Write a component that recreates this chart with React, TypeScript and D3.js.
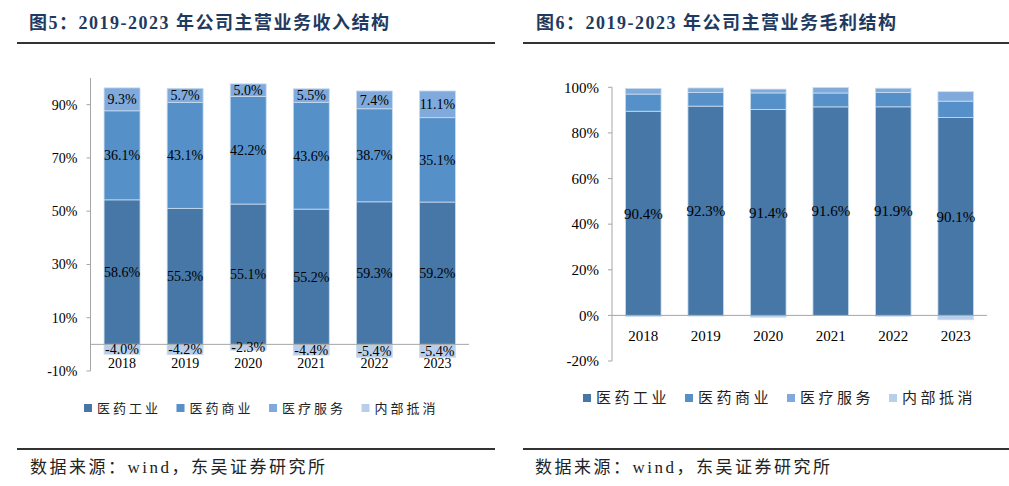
import React from "react";
import * as d3 from "d3";

const years = ["2018", "2019", "2020", "2021", "2022", "2023"];
const seriesNames = ["医药工业", "医药商业", "医疗服务", "内部抵消"];
const colors = ["#4677a7", "#5590c8", "#7faadb", "#b9cfe9"];

// Revenue structure (%)
const revIndustry = [58.6, 55.3, 55.1, 55.2, 59.3, 59.2];
const revCommerce = [36.1, 43.1, 42.2, 43.6, 38.7, 35.1];
const revService = [9.3, 5.7, 5.0, 5.5, 7.4, 11.1];
const revElim = [-4.0, -4.2, -2.3, -4.4, -5.4, -5.4];

// Gross profit structure (%)
const gpIndustry = [90.4, 92.3, 91.4, 91.6, 91.9, 90.1];
const gpCommerce = [7.6, 6.0, 7.3, 6.1, 6.3, 7.5];
const gpService = [2.5, 2.0, 1.7, 2.4, 1.9, 4.3];
const gpElim = [-0.5, -0.3, -0.8, -0.1, -0.4, -2.0];

const revTicks = [-10, 10, 30, 50, 70, 90];
const gpTicks = [-20, 0, 20, 40, 60, 80, 100];

const FONT = "'Liberation Serif', 'Times New Roman', 'Noto Sans CJK SC', serif";
const CJK = "'Liberation Serif', 'Noto Sans CJK SC', serif";

type Seg = { key: number; yi: number; v0: number; v1: number; raw: number };

function buildSegs(series: number[][]): Seg[] {
  const segs: Seg[] = [];
  years.forEach((_, yi) => {
    const absSum = d3.sum(series, (s) => Math.abs(s[yi]));
    let pos = 0;
    let neg = 0;
    series.forEach((s, k) => {
      const v = (s[yi] / absSum) * 100;
      if (v >= 0) {
        segs.push({ key: k, yi, v0: pos, v1: pos + v, raw: s[yi] });
        pos += v;
      } else {
        segs.push({ key: k, yi, v0: neg + v, v1: neg, raw: s[yi] });
        neg += v;
      }
    });
  });
  return segs;
}

function Panel(props: {
  series: number[][];
  ticks: number[];
  domain: [number, number];
  xRange: [number, number];
  yRange: [number, number];
  labelKeys: number[];
  labelSize: number;
  tickSize: number;
  yearY: number;
  legendX: number;
  legendY: number;
  legendStep: number;
  legendSize: number;
  legendSpacing: number;
}) {
  const {
    series, ticks, domain, xRange, yRange, labelKeys, labelSize, tickSize,
    yearY, legendX, legendY, legendStep, legendSize, legendSpacing,
  } = props;
  const x = d3.scaleBand<string>().domain(years).range(xRange).paddingInner(0.43).paddingOuter(0.215);
  const y = d3.scaleLinear().domain(domain).range(yRange);
  const segs = buildSegs(series);
  const axisX = xRange[0];
  return (
    <g>
      {segs.map((s, i) => (
        <rect
          key={i}
          x={x(years[s.yi])}
          width={x.bandwidth()}
          y={y(s.v1)}
          height={Math.max(0, y(s.v0) - y(s.v1))}
          fill={colors[s.key]}
          stroke="#c9dcf0"
          strokeWidth={0.8}
        />
      ))}
      {/* y axis */}
      <line x1={axisX} x2={axisX} y1={y(domain[1])} y2={y(domain[0])} stroke="#a6a6a6" strokeWidth={1} />
      {ticks.map((t) => (
        <g key={t}>
          <line x1={axisX - 4} x2={axisX} y1={y(t)} y2={y(t)} stroke="#a6a6a6" strokeWidth={1} />
          <text x={axisX - 13} y={y(t)} dy="0.35em" textAnchor="end" fontSize={tickSize} fontFamily={FONT} fill="#000">
            {t}%
          </text>
        </g>
      ))}
      {/* zero line */}
      <line x1={axisX} x2={xRange[1]} y1={y(0)} y2={y(0)} stroke="#a6a6a6" strokeWidth={1} />
      {years.map((yr) => (
        <text key={yr} x={(x(yr) as number) + x.bandwidth() / 2} y={yearY} dy="0.35em" textAnchor="middle" fontSize={tickSize} fontFamily={FONT} fill="#000">
          {yr}
        </text>
      ))}
      {segs
        .filter((s) => labelKeys.includes(s.key))
        .map((s, i) => (
          <text
            key={"l" + i}
            x={(x(years[s.yi]) as number) + x.bandwidth() / 2}
            y={y((s.v0 + s.v1) / 2)}
            dy="0.35em"
            textAnchor="middle"
            fontSize={labelSize}
            fontFamily={FONT}
            fill="#000"
          >
            {s.raw.toFixed(1)}%
          </text>
        ))}
      {seriesNames.map((n, k) => (
        <g key={n} transform={`translate(${legendX + k * legendStep},${legendY})`}>
          <rect x={-4} y={-4} width={8} height={8} fill={colors[k]} />
          <text x={9} y={0} dy="0.35em" fontSize={legendSize} fontFamily={CJK} fill="#222" letterSpacing={legendSpacing}>
            {n}
          </text>
        </g>
      ))}
    </g>
  );
}

export default function App() {
  return (
    <svg width={1009} height={486} style={{ position: "absolute", left: 0, top: 0, background: "#fff" }}>
      <rect width={1009} height={486} fill="#fff" />
      {/* titles */}
      <text x={29} y={23} dy="0.35em" fontSize={18} fontWeight="bold" fontFamily={CJK} fill="#1f3a60" letterSpacing={1.5}>
        图5：2019-2023 年公司主营业务收入结构
      </text>
      <line x1={17} x2={495} y1={43} y2={43} stroke="#333" strokeWidth={2} />
      <text x={536} y={23} dy="0.35em" fontSize={18} fontWeight="bold" fontFamily={CJK} fill="#1f3a60" letterSpacing={1.5}>
        图6：2019-2023 年公司主营业务毛利结构
      </text>
      <line x1={523} x2={1009} y1={43} y2={43} stroke="#333" strokeWidth={2} />

      <Panel
        series={[revIndustry, revCommerce, revService, revElim]}
        ticks={revTicks}
        domain={[-10, 100]}
        xRange={[90.5, 469]}
        yRange={[371, 78]}
        labelKeys={[0, 1, 2, 3]}
        labelSize={14}
        tickSize={14}
        yearY={363}
        legendX={88}
        legendY={408}
        legendStep={92.5}
        legendSize={13}
        legendSpacing={3}
      />
      <Panel
        series={[gpIndustry, gpCommerce, gpService, gpElim]}
        ticks={gpTicks}
        domain={[-20, 100]}
        xRange={[612, 987]}
        yRange={[361, 87.3]}
        labelKeys={[0]}
        labelSize={15}
        tickSize={15}
        yearY={336}
        legendX={587}
        legendY={398}
        legendStep={102}
        legendSize={15}
        legendSpacing={3.5}
      />

      {/* sources */}
      <line x1={17} x2={495} y1={449} y2={449} stroke="#333" strokeWidth={2} />
      <text x={30} y={467} dy="0.35em" fontSize={17} fontFamily={CJK} fill="#222" letterSpacing={2.5}>
        数据来源：wind，东吴证券研究所
      </text>
      <line x1={523} x2={1009} y1={449} y2={449} stroke="#333" strokeWidth={2} />
      <text x={535} y={467} dy="0.35em" fontSize={17} fontFamily={CJK} fill="#222" letterSpacing={2.5}>
        数据来源：wind，东吴证券研究所
      </text>
    </svg>
  );
}
